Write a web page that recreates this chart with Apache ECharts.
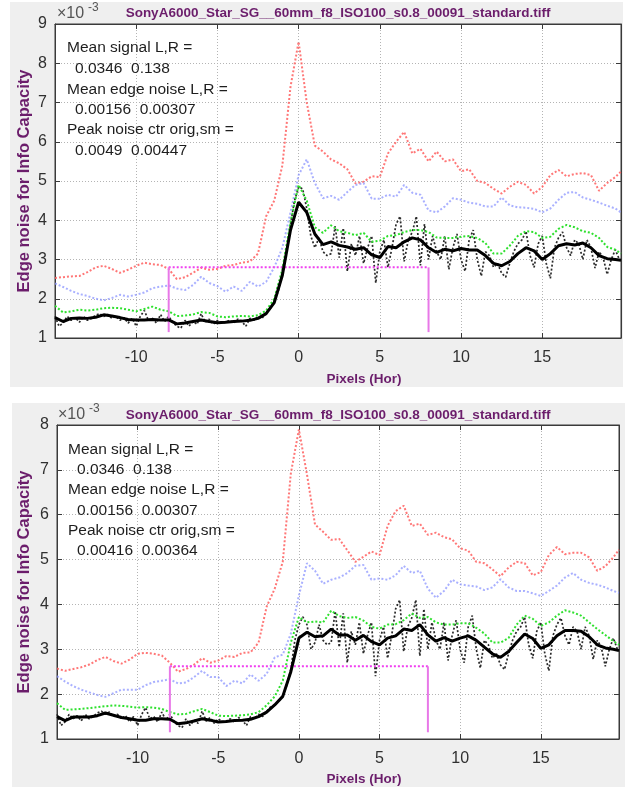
<!DOCTYPE html>
<html><head><meta charset="utf-8">
<script src="https://cdn.jsdelivr.net/npm/echarts@6/dist/echarts.min.js"></script>
<style>html,body{margin:0;padding:0;background:#fff}#c{width:627px;height:787px}</style>
</head><body><div id="c"></div>
<script>
// ---------- DATA (values in units of 1e-3) ----------
const xTickLabels = [-10, -5, 0, 5, 10, 15];
const titleText = 'SonyA6000_Star_SG__60mm_f8_ISO100_s0.8_00091_standard.tiff';
const yName = 'Edge noise for Info Capacity';
const xName = 'Pixels (Hor)';
const annotP1 = ['Mean signal L,R =', '0.0346  0.138', 'Mean edge noise L,R =', '0.00156  0.00307', 'Peak noise ctr orig,sm =', '0.0049  0.00447'];
const annotP2 = ['Mean signal L,R =', '0.0346  0.138', 'Mean edge noise L,R =', '0.00156  0.00307', 'Peak noise ctr orig,sm =', '0.00416  0.00364'];

// sample positions (pixels): half-pixel grid from -15 plus the last sample, quarter-pixel grid for raw data
const xHalf = []; for (let i = 0; i < 70; i++) xHalf.push(-15 + 0.5 * i); xHalf.push(19.85);
const xQuarter = []; for (let i = 0; i < 140; i++) xQuarter.push(-15 + 0.25 * i);

// ----- Panel 1 -----
const redP1 = [2.53,2.55,2.57,2.58,2.68,2.8,2.84,2.76,2.66,2.74,
  2.84,2.92,2.88,2.86,2.76,2.5,2.55,2.66,2.79,2.74,
  2.76,2.84,2.86,2.92,2.95,3.15,4.1,4.5,5.4,7.4,
  8.55,7.0,5.9,5.75,5.55,5.45,5.3,4.94,4.98,5.12,
  5.1,5.7,6.0,6.25,5.7,5.82,5.5,5.75,5.5,5.55,
  5.25,5.3,5.0,4.95,4.8,4.68,4.85,4.98,4.9,4.68,
  4.85,5.15,5.28,5.12,5.18,5.2,5.15,4.75,4.95,5.1,5.24];
const blueP1 = [2.39,2.3,2.2,2.12,2.07,2.0,1.96,2.02,2.1,2.06,
  2.1,2.16,2.27,2.31,2.34,2.26,2.22,2.35,2.56,2.4,
  2.32,2.18,2.31,2.2,2.43,2.31,2.43,2.8,3.3,4.2,
  5.15,5.55,4.95,4.56,4.62,4.52,4.72,4.9,4.95,4.55,
  4.55,4.65,4.6,4.9,4.7,4.65,4.25,4.2,4.35,4.56,
  4.52,4.45,4.42,4.35,4.35,4.58,4.38,4.33,4.32,4.29,
  4.2,4.3,4.52,4.7,4.72,4.58,4.52,4.45,4.37,4.3,4.2];
const greenP1 = [1.82,1.65,1.68,1.72,1.7,1.72,1.76,1.77,1.76,1.72,
  1.68,1.74,1.8,1.72,1.68,1.56,1.57,1.6,1.66,1.64,
  1.55,1.53,1.55,1.56,1.55,1.58,1.7,2.0,2.75,3.95,
  4.9,4.5,3.82,3.68,3.87,3.72,3.68,3.62,3.68,3.45,
  3.48,3.6,3.62,3.7,3.75,3.75,3.7,3.56,3.55,3.55,
  3.58,3.6,3.55,3.42,3.15,3.15,3.35,3.6,3.72,3.7,
  3.55,3.58,3.78,3.88,3.82,3.72,3.68,3.55,3.32,3.25,3.15];
const smoothP1 = [1.52,1.42,1.5,1.51,1.5,1.53,1.59,1.56,1.52,1.47,
  1.46,1.46,1.47,1.46,1.46,1.36,1.38,1.42,1.46,1.42,
  1.39,1.4,1.42,1.43,1.45,1.5,1.62,1.9,2.6,3.75,
  4.46,4.2,3.65,3.38,3.45,3.36,3.32,3.26,3.3,3.12,
  3.05,3.33,3.3,3.45,3.55,3.5,3.3,3.18,3.26,3.22,
  3.28,3.24,3.24,3.1,2.9,2.84,2.95,3.15,3.3,3.22,
  3.0,3.15,3.35,3.4,3.37,3.42,3.3,3.1,3.02,3.0,2.98];
const rawP1 = [1.55,1.3,1.38,1.55,1.45,1.52,1.4,1.55,
  1.45,1.5,1.58,1.62,1.55,1.6,1.5,1.55,
  1.45,1.52,1.38,1.5,1.3,1.55,1.7,1.45,
  1.5,1.38,1.6,1.42,1.55,1.4,1.3,1.25,
  1.45,1.3,1.42,1.35,1.62,1.4,1.48,1.35,
  1.45,1.38,1.4,1.45,1.38,1.48,1.42,1.3,
  1.5,1.45,1.55,1.5,1.65,1.75,1.95,2.2,
  2.7,3.2,3.9,4.5,4.85,4.8,4.3,3.6,
  3.3,3.55,3.2,3.1,3.15,3.85,3.05,3.8,
  2.7,3.4,3.1,3.6,2.9,3.3,3.6,2.4,
  3.2,3.5,2.8,3.3,3.9,4.1,2.95,3.5,
  3.7,4.1,2.85,3.9,3.0,3.6,3.2,3.0,
  3.6,2.75,3.3,3.65,3.0,2.7,3.5,3.75,
  3.0,2.58,3.2,3.1,2.8,2.9,2.65,2.55,
  2.9,3.2,3.4,3.5,3.72,3.1,2.8,3.4,
  3.6,2.9,2.52,3.3,3.55,3.7,3.3,3.1,
  3.5,3.4,3.0,3.5,3.3,2.78,3.2,3.05,
  2.62,3.0,3.25,3.0];

// ----- Panel 2 -----
const redP2 = [2.57,2.52,2.56,2.6,2.66,2.76,2.83,2.74,2.68,2.77,
  2.9,2.92,2.9,2.86,2.7,2.5,2.56,2.66,2.8,2.7,
  2.75,2.85,2.83,2.92,2.93,3.15,3.95,4.35,4.95,6.92,
  7.9,6.9,5.78,5.62,5.44,5.46,5.21,4.95,5.06,5.18,
  5.1,5.75,6.08,6.2,5.75,5.8,5.55,5.6,5.5,5.45,
  5.25,5.2,4.95,4.92,4.78,4.63,4.82,4.95,4.92,4.65,
  4.72,5.1,5.28,5.12,5.15,5.15,5.05,4.75,4.85,5.05,5.22];
const blueP2 = [2.4,2.28,2.18,2.1,2.04,1.98,1.94,2.02,2.1,2.1,
  2.1,2.2,2.27,2.3,2.33,2.24,2.26,2.38,2.52,2.38,
  2.38,2.18,2.3,2.24,2.44,2.3,2.45,2.82,2.88,3.35,
  4.2,4.92,4.75,4.46,4.55,4.6,4.7,4.86,4.88,4.55,
  4.58,4.55,4.65,4.86,4.7,4.75,4.35,4.15,4.3,4.55,
  4.45,4.42,4.4,4.32,4.38,4.56,4.38,4.3,4.3,4.25,
  4.19,4.3,4.42,4.6,4.7,4.55,4.48,4.44,4.38,4.3,4.26];
const greenP2 = [1.8,1.65,1.66,1.67,1.69,1.71,1.73,1.75,1.74,1.72,
  1.7,1.71,1.7,1.67,1.6,1.55,1.56,1.62,1.67,1.6,
  1.52,1.51,1.52,1.53,1.55,1.6,1.75,1.95,2.3,3.15,
  3.72,3.6,3.62,3.6,3.86,3.74,3.7,3.72,3.64,3.5,
  3.46,3.55,3.56,3.65,3.8,3.7,3.72,3.6,3.55,3.55,
  3.58,3.58,3.48,3.35,3.15,3.15,3.25,3.55,3.75,3.68,
  3.52,3.6,3.75,3.87,3.82,3.75,3.6,3.45,3.32,3.18,3.1];
const smoothP2 = [1.5,1.41,1.49,1.49,1.49,1.52,1.58,1.53,1.48,1.45,
  1.42,1.42,1.45,1.45,1.44,1.34,1.36,1.4,1.45,1.42,
  1.38,1.39,1.41,1.42,1.44,1.5,1.6,1.76,1.95,2.5,
  3.25,3.38,3.28,3.3,3.45,3.32,3.32,3.2,3.31,3.17,
  3.1,3.25,3.3,3.45,3.42,3.55,3.32,3.18,3.26,3.18,
  3.25,3.3,3.2,3.05,2.9,2.82,2.95,3.15,3.34,3.24,
  3.02,3.1,3.3,3.42,3.42,3.4,3.28,3.1,3.03,3.0,2.97];
const rawP2 = [1.55,1.3,1.38,1.55,1.45,1.52,1.4,1.55,
  1.45,1.5,1.58,1.62,1.55,1.6,1.5,1.55,
  1.45,1.52,1.38,1.5,1.3,1.55,1.7,1.45,
  1.5,1.38,1.6,1.42,1.55,1.4,1.3,1.25,
  1.45,1.3,1.42,1.35,1.62,1.4,1.48,1.35,
  1.45,1.38,1.4,1.45,1.38,1.48,1.42,1.3,
  1.5,1.45,1.55,1.5,1.62,1.72,1.75,1.85,
  1.95,2.2,2.55,3.2,3.55,3.72,3.55,3.0,
  3.15,3.55,3.2,3.1,3.15,3.85,3.05,3.8,
  2.7,3.4,3.1,3.6,2.9,3.3,3.6,2.4,
  3.2,3.5,2.8,3.3,3.9,4.1,2.95,3.5,
  3.7,4.1,2.85,3.9,3.0,3.6,3.2,3.0,
  3.6,2.75,3.3,3.65,3.0,2.7,3.5,3.75,
  3.0,2.58,3.2,3.1,2.8,2.9,2.65,2.55,
  2.9,3.2,3.4,3.5,3.72,3.1,2.8,3.4,
  3.6,2.9,2.52,3.3,3.55,3.7,3.3,3.1,
  3.5,3.4,3.0,3.5,3.3,2.78,3.2,3.05,
  2.62,3.0,3.25,3.0];

// edge markers (pixel positions) and levels
const markerX = [-8, 8];
const markerLevel = [2.8, 2.62];
const markerBottom = 1.15;
const yMax = [9, 8];

// ---------- CHART ----------
const FONT = '"Liberation Sans", Arial, sans-serif';
const PURPLE = '#6b1d6b';
const AX = '#3a3a3a';
const LBL = '#303030';
const pairs = (xs, ys) => ys.map((y, i) => [xs[i], y]);

const grids = [
  {left: 55, top: 24, width: 566, height: 314},
  {left: 57, top: 425, width: 562, height: 314}
];

const xAxes = [], yAxes = [], series = [];
const panels = [
  {red: redP1, blue: blueP1, green: greenP1, smooth: smoothP1, raw: rawP1},
  {red: redP2, blue: blueP2, green: greenP2, smooth: smoothP2, raw: rawP2}
];

panels.forEach((p, g) => {
  const xb = xAxes.length;
  xAxes.push({
    gridIndex: g, type: 'value', min: -15, max: 19.85, interval: 5, position: 'bottom',
    axisLine: {show: true, onZero: false, lineStyle: {color: AX}},
    axisTick: {show: true, inside: true, length: 5, lineStyle: {color: AX}},
    axisLabel: {fontSize: 16, color: LBL, fontFamily: FONT, margin: 12,
      formatter: v => (xTickLabels.indexOf(v) >= 0 ? String(v) : '')},
    splitLine: {show: true, lineStyle: {type: [1, 2], color: '#b4b4b4'}}
  });
  xAxes.push({
    gridIndex: g, type: 'value', min: -15, max: 19.85, interval: 5, position: 'top',
    axisLine: {show: true, onZero: false, lineStyle: {color: AX}},
    axisTick: {show: true, inside: true, length: 5, lineStyle: {color: AX}},
    axisLabel: {show: false}, splitLine: {show: false}
  });
  const yl = yAxes.length;
  yAxes.push({
    gridIndex: g, type: 'value', min: 1, max: yMax[g], interval: 1, position: 'left',
    axisLine: {show: true, onZero: false, lineStyle: {color: AX}},
    axisTick: {show: true, inside: true, length: 5, lineStyle: {color: AX}},
    axisLabel: {fontSize: 16, color: LBL, fontFamily: FONT, margin: 8},
    splitLine: {show: true, lineStyle: {type: [1, 2], color: '#b4b4b4'}}
  });
  yAxes.push({
    gridIndex: g, type: 'value', min: 1, max: yMax[g], interval: 1, position: 'right',
    axisLine: {show: true, onZero: false, lineStyle: {color: AX}},
    axisTick: {show: true, inside: true, length: 5, lineStyle: {color: AX}},
    axisLabel: {show: false}, splitLine: {show: false}
  });
  const base = {type: 'line', xAxisIndex: xb, yAxisIndex: yl, showSymbol: false, symbol: 'none', silent: true};
  series.push(Object.assign({}, base, {data: pairs(xHalf, p.red), lineStyle: {color: 'rgba(255,95,95,0.85)', width: 2, type: [2, 2]}}));
  series.push(Object.assign({}, base, {data: pairs(xHalf, p.blue), lineStyle: {color: 'rgba(140,150,255,0.75)', width: 2, type: [2, 2]}}));
  series.push(Object.assign({}, base, {data: pairs(xQuarter, p.raw), lineStyle: {color: '#2a2a2a', width: 1.7, type: [2, 2]}}));
  series.push(Object.assign({}, base, {data: pairs(xHalf, p.green), lineStyle: {color: '#2ee02e', width: 2, type: [2, 2]}}));
  series.push(Object.assign({}, base, {data: [[markerX[0], markerLevel[g]], [markerX[1], markerLevel[g]]], lineStyle: {color: '#f040f0', width: 2, type: [2, 2]}}));
  series.push(Object.assign({}, base, {data: [[markerX[0], markerBottom], [markerX[0], markerLevel[g]]], lineStyle: {color: '#e878e8', width: 2}}));
  series.push(Object.assign({}, base, {data: [[markerX[1], markerBottom], [markerX[1], markerLevel[g]]], lineStyle: {color: '#e878e8', width: 2}}));
  series.push(Object.assign({}, base, {data: pairs(xHalf, p.smooth), lineStyle: {color: '#000', width: 3}}));
});

// ---------- texts / backgrounds ----------
const graphic = [
  {type: 'rect', shape: {x: 10, y: 2, width: 613, height: 385}, style: {fill: '#efefef'}, z: -10, silent: true},
  {type: 'rect', shape: {x: 12, y: 403, width: 613, height: 384}, style: {fill: '#efefef'}, z: -10, silent: true}
];
const layout = [
  {titleY: 13.5, expX: 57, expY: 14, supY: 7.5, nameCy: 181, xNameY: 379, annX: 67, annX2: 75, annY: [48, 69, 90, 110, 130, 151], ann: annotP1},
  {titleY: 415, expX: 58, expY: 415, supY: 408.5, nameCy: 582, xNameY: 779, annX: 68, annX2: 77, annY: [450, 470, 490, 511, 531, 551], ann: annotP2}
];
layout.forEach(L => {
  graphic.push({type: 'text', x: 338, y: L.titleY, z: 100, silent: true,
    style: {text: titleText, fill: PURPLE, font: 'bold 13.5px ' + FONT, textAlign: 'center', textVerticalAlign: 'middle'}});
  graphic.push({type: 'text', x: L.expX, y: L.expY, z: 100, silent: true,
    style: {text: '\u00d710', fill: '#555555', font: '16px ' + FONT, textAlign: 'left', textVerticalAlign: 'middle'}});
  graphic.push({type: 'text', x: L.expX + 31, y: L.supY, z: 100, silent: true,
    style: {text: '-3', fill: '#555555', font: '12px ' + FONT, textAlign: 'left', textVerticalAlign: 'middle'}});
  graphic.push({type: 'text', x: 24, y: L.nameCy, rotation: Math.PI / 2, z: 100, silent: true,
    style: {text: yName, fill: PURPLE, font: 'bold 16.5px ' + FONT, textAlign: 'center', textVerticalAlign: 'middle'}});
  graphic.push({type: 'text', x: 364, y: L.xNameY, z: 100, silent: true,
    style: {text: xName, fill: PURPLE, font: 'bold 13.5px ' + FONT, textAlign: 'center', textVerticalAlign: 'middle'}});
  L.ann.forEach((t, i) => {
    graphic.push({type: 'text', x: (i % 2 === 0) ? L.annX : L.annX2, y: L.annY[i], z: 100, silent: true,
      style: {text: t, fill: '#1e1e1e', font: '15.5px ' + FONT, textAlign: 'left', textVerticalAlign: 'middle'}});
  });
});

const chart = echarts.init(document.getElementById('c'), null, {renderer: 'canvas'});
chart.setOption({
  animation: false,
  backgroundColor: '#ffffff',
  grid: grids.map(g => Object.assign({show: true, backgroundColor: '#ffffff', borderColor: AX, borderWidth: 1, containLabel: false}, g)),
  xAxis: xAxes,
  yAxis: yAxes,
  series: series,
  graphic: graphic
});
</script></body></html>
